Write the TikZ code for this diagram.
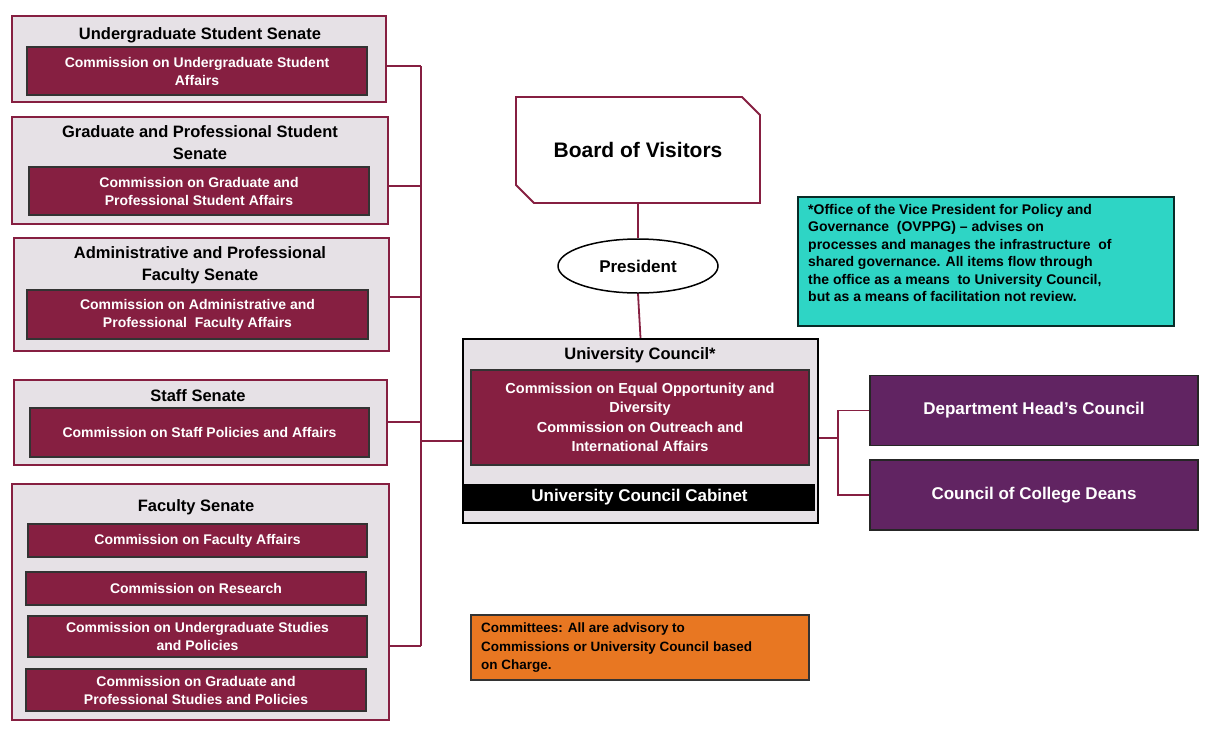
\documentclass[tikz,border=0pt]{standalone}
\usepackage{fontspec}
\setmainfont{Liberation Sans}
\usetikzlibrary{shapes.geometric}
\begin{document}
\begin{tikzpicture}[x=1pt,y=-1pt,
  every node/.style={font=\bfseries, inner sep=0pt, align=center},
  senate/.style={draw=mar, line width=1.6pt, fill=lgrey, minimum width=#1},
  comm/.style={draw=black!80, line width=1.2pt, fill=mar, text=white, font=\bfseries\fontsize{14}{18}\selectfont},
  ttl/.style={font=\bfseries\fontsize{16.5}{22}\selectfont},
  link/.style={draw=mar, line width=1.8pt},
  purp/.style={draw=black!85, line width=1.6pt, fill=pur, text=white, font=\bfseries\fontsize{17}{20}\selectfont, minimum width=328, minimum height=70}
]
\definecolor{mar}{HTML}{861F41}
\definecolor{lgrey}{HTML}{E6E1E6}
\definecolor{pur}{HTML}{612462}
\definecolor{teal}{HTML}{2ED5C5}
\definecolor{org}{HTML}{E87722}
\useasboundingbox (0,0) rectangle (1214,734);
% senate boxes
\node[senate=374, minimum height=86] (s1) at (199,59) {};
\node[senate=376, minimum height=107] (s2) at (200,170.5) {};
\node[senate=375, minimum height=113] (s3) at (201.5,294.5) {};
\node[senate=373, minimum height=85] (s4) at (200.5,422.5) {};
\node[senate=377, minimum height=236] (s5) at (200.5,602) {};
\node[ttl] (t1) at (200,35) {Undergraduate Student Senate};
\node[ttl] (t2) at (200,143) {Graduate and Professional Student\\Senate};
\node[ttl] (t3) at (200,265) {Administrative and Professional\\Faculty Senate};
\node[ttl] (t4) at (198,396) {Staff Senate};
\node[ttl] (t5) at (196,507) {Faculty Senate};
\node[comm, minimum width=340, minimum height=48] (c1) at (197,71) {Commission on Undergraduate Student\\Affairs};
\node[comm, minimum width=340, minimum height=48] (c2) at (199,191) {Commission on Graduate and\\Professional Student Affairs};
\node[comm, minimum width=341, minimum height=49] (c3) at (197.5,314.5) {Commission on Administrative and\\Professional\ \ Faculty Affairs};
\node[comm, minimum width=339, minimum height=49] (c4) at (199.5,432.5) {Commission on Staff Policies and Affairs};
\node[comm, minimum width=339, minimum height=33] (c5) at (197.5,540.5) {Commission on Faculty Affairs};
\node[comm, minimum width=340, minimum height=33] (c6) at (196,588.5) {Commission on Research};
\node[comm, minimum width=339, minimum height=41] (c7) at (197.5,636.5) {Commission on Undergraduate Studies\\and Policies};
\node[comm, minimum width=340, minimum height=42] (c8) at (196,690) {Commission on Graduate and\\Professional Studies and Policies};
% trunk
\coordinate (ta) at (421,66);
\coordinate (tb) at (421,646);
\coordinate (tm) at (421,441);
\draw[link] (ta) -- (tb);
\draw[link] (s1.east |- ta) -- (ta);
\draw[link] (s2.east |- 0,186) -- (421,186);
\draw[link] (s3.east |- 0,297) -- (421,297);
\draw[link] (s4.east |- 0,422) -- (421,422);
\draw[link] (s5.east |- tb) -- (tb);
% board
\draw[draw=mar, line width=1.8pt, fill=white] (516,97) -- (742,97) -- (760,115) -- (760,203) -- (534,203) -- (516,185) -- cycle;
\node[font=\bfseries\fontsize{21}{24}\selectfont] (bov) at (638,150) {Board of Visitors};
\coordinate (bovb) at (638,203);
\node[draw=black, line width=1.5pt, ellipse, minimum width=160, minimum height=54, font=\bfseries\fontsize{17}{20}\selectfont] (pres) at (638,266) {President};
% university council
\node[draw=black, line width=2.2pt, fill=lgrey, minimum width=355, minimum height=184] (uc) at (640.5,431) {};
\draw[link] (bovb) -- (pres.north);
\draw[link] (pres.south) -- (uc.north);
\node[ttl] (uct) at (640,355) {University Council*};
\node[comm, minimum width=338, minimum height=95, font=\bfseries\fontsize{14.5}{19.5}\selectfont] (ucc) at (640,417.5) {Commission on Equal Opportunity and\\Diversity\\Commission on Outreach and\\International Affairs};
\node[fill=black, text=white, minimum width=351, minimum height=27, font=\bfseries\fontsize{17}{20}\selectfont] (cab) at (639.5,497.5) {University Council Cabinet};
\draw[link] (tm) -- (uc.west |- tm);
% right
\node[purp] (dh) at (1034,410.5) {Department Head’s Council};
\node[purp] (cd) at (1034,495) {Council of College Deans};
\coordinate (rj) at (838,438);
\draw[link] (uc.east |- rj) -- (rj);
\draw[link] (dh.west) -| (rj) |- (cd.west);
% notes
\node[draw=black!80!teal, line width=2pt, fill=teal, minimum width=376, minimum height=129] (note) at (986,261.5) {};
\node[anchor=north west, align=left, font=\bfseries\fontsize{14}{17.5}\selectfont] (notet) at (808,204) {*Office of the Vice President for Policy and\\Governance\ \ (OVPPG) -- advises on\\processes and manages the infrastructure\ \ of\\shared governance. All items flow through\\the office as a means\ \ to University Council,\\but as a means of facilitation not review.};
\node[draw=black!80, line width=1.5pt, fill=org, minimum width=338, minimum height=65] (org) at (640,647.5) {};
\node[anchor=north west, align=left, font=\bfseries\fontsize{13.5}{18.5}\selectfont] (orgt) at (481,623) {Committees: All are advisory to\\Commissions or University Council based\\on Charge.};
\end{tikzpicture}
\end{document}
